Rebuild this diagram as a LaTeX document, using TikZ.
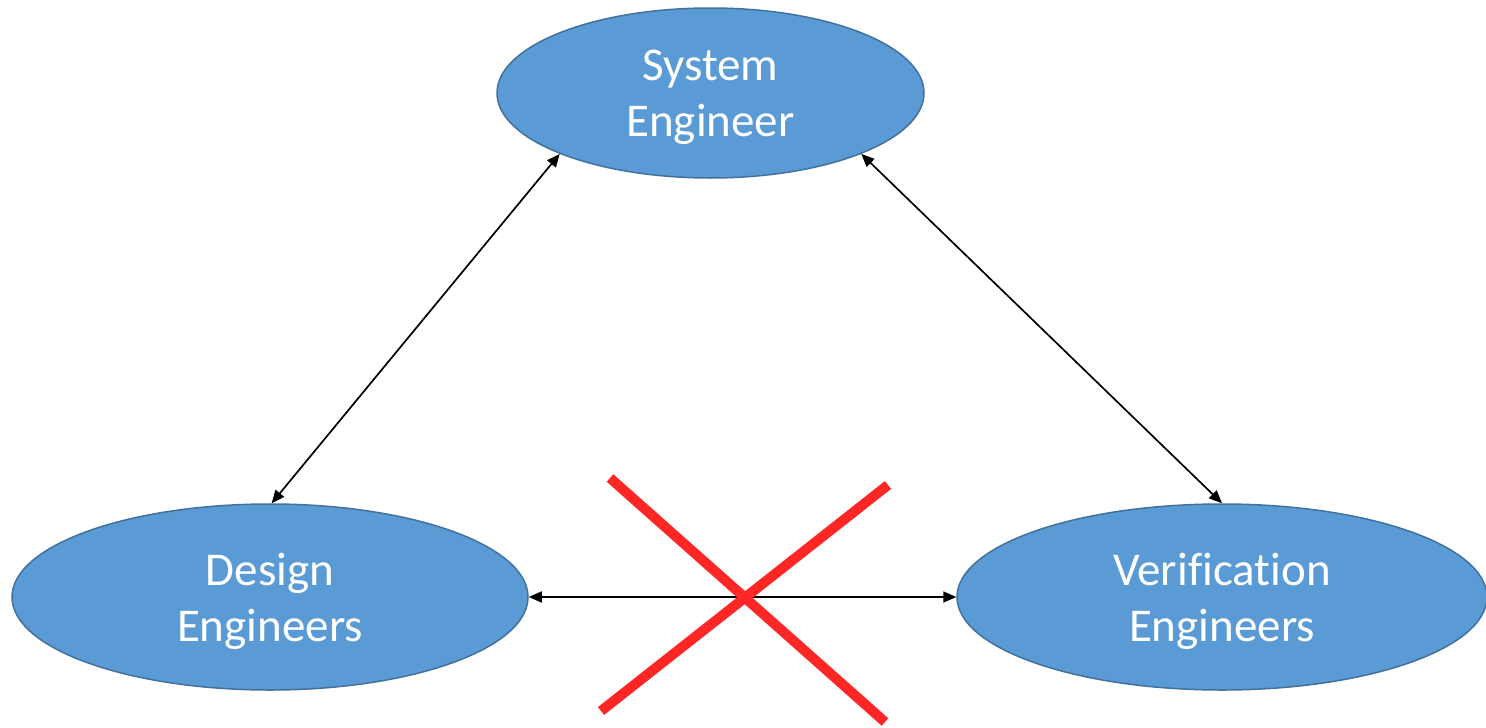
\documentclass[tikz,border=0pt]{standalone}
\usepackage{fontspec}
\setmainfont[Ligatures=NoCommon]{Carlito}
\usetikzlibrary{shapes.geometric,arrows.meta}
\definecolor{roleblue}{HTML}{5B9BD5}
\definecolor{roleedge}{HTML}{41719C}
\definecolor{crossred}{HTML}{FF2626}
\tikzset{
  role/.style={ellipse, fill=roleblue, draw=roleedge, line width=1.5pt,
    inner sep=0pt, text=white, align=center, text depth=0pt,
    font=\fontsize{47}{56}\selectfont},
  link/.style={line width=1.7pt, draw=black,
    {Triangle[length=13pt,width=11pt]}-{Triangle[length=13pt,width=11pt]}},
  strike/.style={line width=10pt, draw=crossred}
}
\begin{document}
\begin{tikzpicture}[x=1pt,y=-1pt]
  \useasboundingbox (0,0) rectangle (1486,728);
  % the three roles
  \node[role, minimum width=427pt, minimum height=170pt] (sys) at (710.5,93) {System\\Engineer};
  \node[role, minimum width=516pt, minimum height=186pt] (des) at (270,597) {Design\\Engineers};
  \node[role, minimum width=530pt, minimum height=186pt] (ver) at (1222,597) {Verification\\Engineers};
  % communication paths
  \draw[link] (sys.202) -- (des.89);
  \draw[link] (sys.338) -- (ver.90);
  \draw[link] (des.east) -- (ver.west);
  % the crossed-out direct path
  \coordinate (xa) at (610,478);
  \coordinate (xb) at (885,722);
  \coordinate (xc) at (888,485);
  \coordinate (xd) at (601,711);
  \draw[strike] (xa) -- (xb);
  \draw[strike] (xc) -- (xd);
\end{tikzpicture}
\end{document}
